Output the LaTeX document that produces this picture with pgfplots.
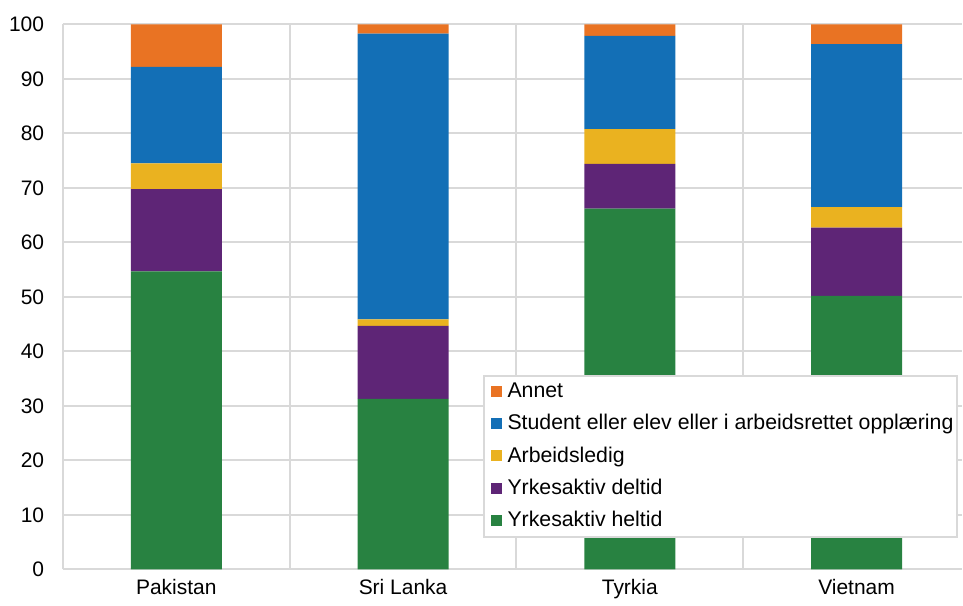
\documentclass[border=0pt]{standalone}
\usepackage{pgfplots}
\pgfplotsset{compat=1.18}
\usepackage{fontspec}
\setmainfont{Liberation Sans}
\definecolor{cOrange}{RGB}{233,115,35}
\definecolor{cBlue}{RGB}{19,111,182}
\definecolor{cYellow}{RGB}{234,178,32}
\definecolor{cPurple}{RGB}{94,37,118}
\definecolor{cGreen}{RGB}{40,130,65}
\definecolor{cGrid}{RGB}{217,217,217}
\begin{document}
\fontsize{20}{24}\selectfont
\begin{tikzpicture}
\begin{axis}[
  at={(0,0)}, anchor=south west,
  scale only axis,
  width=900pt, height=545.5pt,
  ybar stacked,
  bar width=91pt,
  xmin=-0.5, xmax=3.465,
  ymin=0, ymax=100,
  ytick={0,10,...,100},
  xtick={0,1,2,3},
  xticklabels={Pakistan,Sri Lanka,Tyrkia,Vietnam},
  minor xtick={0.5,1.5,2.5},
  ymajorgrids=true, xminorgrids=true,
  grid style={cGrid, line width=2pt},
  minor grid style={cGrid, line width=2pt},
  axis x line*=bottom, axis y line*=left,
  axis line style={cGrid, line width=2pt},
  every axis line/.append style={-},
  major tick length=0pt, minor tick length=0pt,
  tick style={draw=none},
  /pgf/number format/assume math mode=true,
  tick label style={font=\fontsize{21}{24}\selectfont, text=black},
  yticklabel style={xshift=-12pt},
  xticklabel style={yshift=-3pt},
  reverse legend,
  legend cell align=left,
  legend style={at={(axis description cs:0.4667,0.3575)}, anchor=north west,
    draw=cGrid, line width=2pt, font=\fontsize{21.3}{25}\selectfont,
    inner xsep=2pt, inner ysep=5pt, row sep=10pt},
  legend image code/.code={\path (0pt,0pt) (20pt,0pt); \fill[#1] (5pt,-5.5pt) rectangle (16pt,5.5pt);},
]
\addplot[fill=cGreen, draw=none] coordinates {(0,54.7) (1,31.3) (2,66.2) (3,50.2)};
\addplot[fill=cPurple, draw=none] coordinates {(0,15.1) (1,13.4) (2,8.2) (3,12.5)};
\addplot[fill=cYellow, draw=none] coordinates {(0,4.7) (1,1.2) (2,6.4) (3,3.8)};
\addplot[fill=cBlue, draw=none] coordinates {(0,17.7) (1,52.4) (2,17.1) (3,29.9)};
\addplot[fill=cOrange, draw=none] coordinates {(0,7.8) (1,1.7) (2,2.1) (3,3.6)};
\legend{Yrkesaktiv heltid, Yrkesaktiv deltid, Arbeidsledig, Student eller elev eller i arbeidsrettet opplæring, Annet}
\end{axis}
\useasboundingbox (-63pt,-26pt) rectangle (900pt,570pt);
\end{tikzpicture}
\end{document}
